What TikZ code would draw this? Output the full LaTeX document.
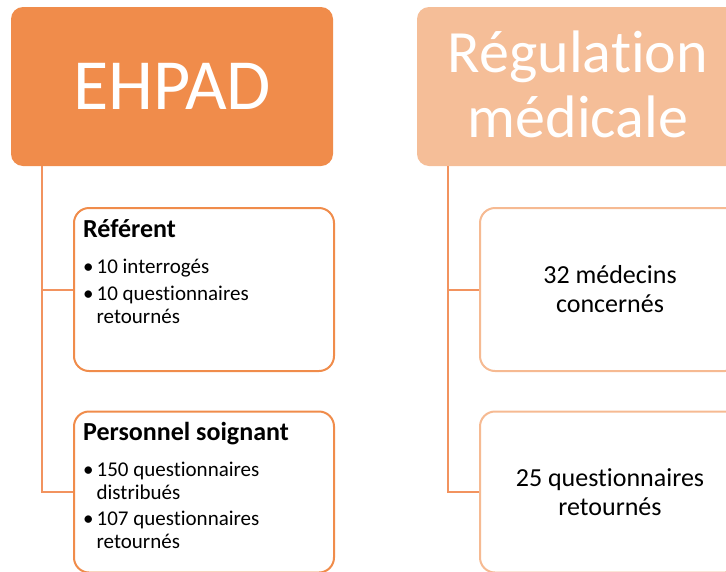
\documentclass[tikz,border=0pt]{standalone}
\usepackage{fontspec}
\setmainfont{Carlito}[Ligatures=NoCommon]
\usepackage{tikz}
\usetikzlibrary{positioning}
\usetikzlibrary{calc}

\definecolor{ehpadorange}{HTML}{F08C4B}
\definecolor{regpeach}{HTML}{F5BE98}
\definecolor{linkorange}{HTML}{F2935F}
\definecolor{regborder}{HTML}{F6BA92}

\tikzset{
  headbox/.style={rectangle,rounded corners=12pt,minimum width=322,minimum height=159,
    text=white,align=center,inner sep=0pt},
  subbox/.style={rectangle,rounded corners=15pt,draw,line width=2pt,fill=white,
    minimum width=260,inner sep=0pt,align=center},
  link/.style={draw=linkorange,line width=2pt}
}

\begin{document}
\begin{tikzpicture}[x=1pt,y=-1pt]
    \useasboundingbox (0,0) rectangle (726,571);
    % heads
    \node (ehpad) [headbox,fill=ehpadorange,font=\fontsize{72}{80}\selectfont] at (172,86.5) {EHPAD};
    \node (regul) [headbox,fill=regpeach,font=\fontsize{60}{65}\selectfont] at (578,86.5)
      {\raisebox{-5.5pt}[\height][\depth]{\begin{tabular}{@{}c@{}}Régulation\\médicale\end{tabular}}};
    % sub boxes
    \begin{scope}[every node/.style={subbox}]
      \node (ref) [draw=ehpadorange,minimum height=163] at (204,289.5) {};
      \node (pers) [draw=ehpadorange,minimum height=161] at (204,492) {};
      \node (med) [draw=regborder,minimum height=163,font=\fontsize{26}{29}\selectfont] at (610,289.5) {32 médecins\\concernés};
      \node (quest) [draw=regborder,minimum height=161,font=\fontsize{26}{29}\selectfont] at (610,492) {25 questionnaires\\retournés};
    \end{scope}
    % texts of the left boxes
    \node (reftxt) [anchor=base west,inner sep=0pt,font=\fontsize{21}{23}\selectfont] at (83,237)
      {\begin{tabular}[t]{@{}l@{\hspace{3pt}}l@{}}
        \multicolumn{2}{@{}l@{}}{\fontsize{26}{30}\selectfont\bfseries Référent}\\[13pt]
        \textbullet & 10 interrogés\\[4pt]
        \textbullet & 10 questionnaires\\
        & retournés
      \end{tabular}};
    \node (perstxt) [anchor=base west,inner sep=0pt,font=\fontsize{21}{23}\selectfont] at (83,440)
      {\begin{tabular}[t]{@{}l@{\hspace{3pt}}l@{}}
        \multicolumn{2}{@{}l@{}}{\fontsize{26}{30}\selectfont\bfseries Personnel soignant}\\[13pt]
        \textbullet & 150 questionnaires\\
        & distribués\\[3pt]
        \textbullet & 107 questionnaires\\
        & retournés
      \end{tabular}};
    % connectors
    \coordinate (lspine) at ($(ehpad.south west)+(31,0)$);
    \coordinate (rspine) at ($(regul.south west)+(31,0)$);
    \draw[link] (lspine) |- (ref.west);
    \draw[link] (lspine) |- (pers.west);
    \draw[link] (rspine) |- (med.west);
    \draw[link] (rspine) |- (quest.west);
  \end{tikzpicture}
\end{document}
